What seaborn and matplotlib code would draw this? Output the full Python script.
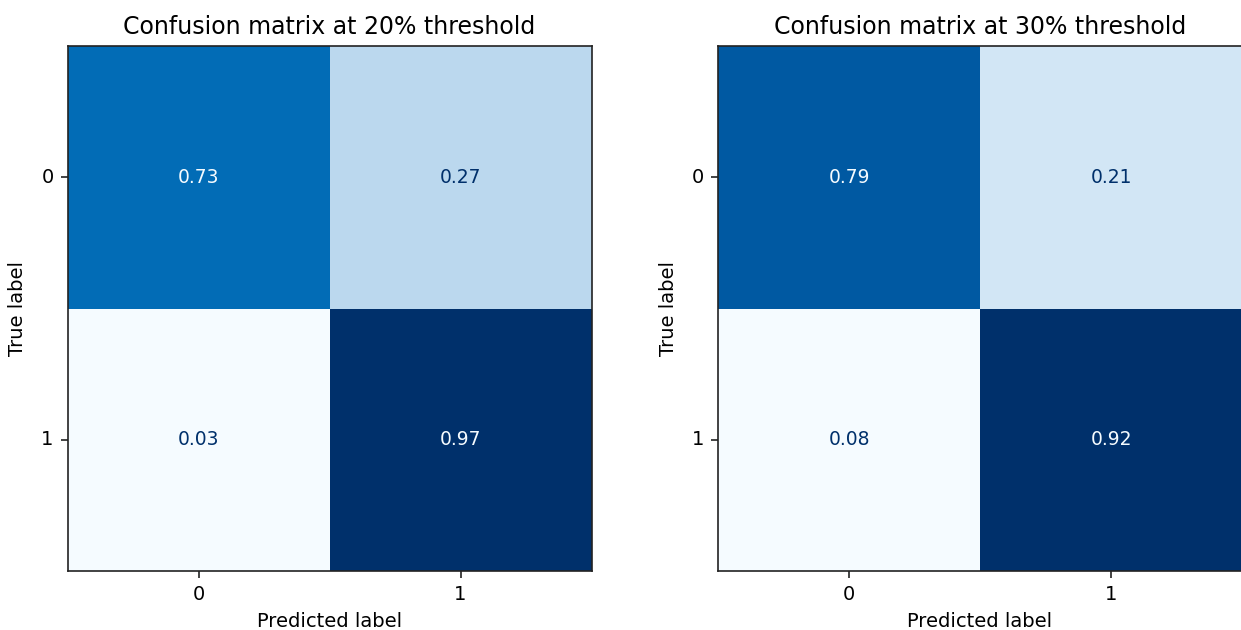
import numpy as np
import matplotlib
matplotlib.use("Agg")
import matplotlib.pyplot as plt
import matplotlib.colors as mcolors
import seaborn as sns

# Normalised confusion matrices (rows: true label, columns: predicted label)
class_labels = ["0", "1"]
cm_20 = [[0.73, 0.27],
         [0.03, 0.97]]
cm_30 = [[0.79, 0.21],
         [0.08, 0.92]]
titles = ["Confusion matrix at 20% threshold", "Confusion matrix at 30% threshold"]

sns.set_style("white")
plt.rcParams["font.family"] = ["DejaVu Sans"]
plt.rcParams["text.color"] = "black"
plt.rcParams["axes.labelcolor"] = "black"
plt.rcParams["xtick.color"] = "black"
plt.rcParams["ytick.color"] = "black"

# a slightly more vivid version of the Blues palette
base = plt.get_cmap("Blues")(np.linspace(0, 1, 256))[:, :3]
hsv = mcolors.rgb_to_hsv(base)
hsv[:, 1] = np.clip(hsv[:, 1] * 1.22, 0, 1)
hsv[:, 0] = hsv[:, 0] - 0.008
vivid_blues = mcolors.ListedColormap(mcolors.hsv_to_rgb(hsv), name="vivid_blues")

fig = plt.figure(figsize=(12.41, 6.30), dpi=100)
W, H = 1241, 630
# axes rectangles in pixels: left, top, width, height
rects = [(67.5, 46, 524, 525), (718, 46, 524, 525)]

for (l, t, w, h), cm, title in zip(rects, [cm_20, cm_30], titles):
    ax = fig.add_axes([l / W, 1 - (t + h) / H, w / W, h / H])
    data = np.array(cm)
    sns.heatmap(data, ax=ax, cmap=vivid_blues, cbar=False, annot=True, fmt=".2f",
                annot_kws={"fontsize": 13.5},
                xticklabels=class_labels, yticklabels=class_labels)
    # text colour: light on dark cells, dark on light cells
    thresh = (data.max() + data.min()) / 2
    for txt, val in zip(ax.texts, data.ravel()):
        txt.set_color(vivid_blues(0.0) if val >= thresh else vivid_blues(1.0))
    for s in ax.spines.values():
        s.set_visible(True)
        s.set_color("#222222")
        s.set_linewidth(1.2)
    ax.tick_params(axis="both", which="both", length=5, width=1.2, color="#222222",
                   bottom=True, left=True, direction="out", pad=5)
    ax.set_yticklabels(class_labels, rotation=0, fontsize=14)
    ax.set_xticklabels(class_labels, rotation=0, fontsize=14)
    ax.set_xlabel("Predicted label", fontsize=14, labelpad=6)
    ax.set_ylabel("True label", fontsize=14, labelpad=10)
    ax.set_title(title, fontsize=17, pad=9)

fig.savefig("out.png", dpi=100)
